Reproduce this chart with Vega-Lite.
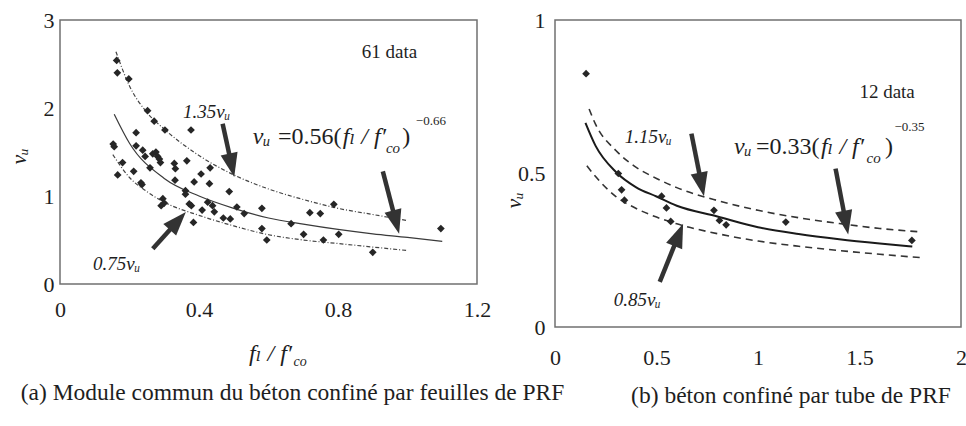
{
  "$schema": "https://vega.github.io/schema/vega-lite/v6.json",
  "background": "white",
  "padding": {"left": 6, "top": 8, "right": 0, "bottom": 0},
  "bounds": "flush",
  "spacing": 78,
  "config": {
    "font": "Liberation Serif, Times New Roman, DejaVu Serif, serif",
    "view": {"stroke": "#707070", "strokeWidth": 1.5},
    "axis": {
      "grid": false, "domain": false, "ticks": false,
      "labelFont": "Liberation Serif, Times New Roman, DejaVu Serif, serif", "labelFontSize": 22, "labelColor": "#1e1e1e",
      "labelFlush": false, "labelOverlap": false,
      "titleFont": "Liberation Serif, Times New Roman, DejaVu Serif, serif", "titleFontStyle": "italic", "titleFontWeight": "normal",
      "titleFontSize": 22, "titleColor": "#1e1e1e"
    },
    "text": {"font": "Liberation Serif, Times New Roman, DejaVu Serif, serif"},
    "title": {"font": "Liberation Serif, Times New Roman, DejaVu Serif, serif", "fontSize": 23.5, "fontWeight": "normal", "color": "#1e1e1e"}
  },
  "datasets": {
    "ptsA": [
      {"x":0.163,"y":2.54},{"x":0.165,"y":2.40},{"x":0.198,"y":2.33},{"x":0.252,"y":1.97},{"x":0.271,"y":1.85},
      {"x":0.302,"y":1.75},{"x":0.377,"y":1.75},{"x":0.219,"y":1.72},{"x":0.153,"y":1.59},{"x":0.156,"y":1.56},
      {"x":0.219,"y":1.57},{"x":0.238,"y":1.52},{"x":0.245,"y":1.45},{"x":0.267,"y":1.48},{"x":0.276,"y":1.50},
      {"x":0.281,"y":1.45},{"x":0.289,"y":1.38},{"x":0.286,"y":1.42},{"x":0.180,"y":1.38},{"x":0.259,"y":1.32},
      {"x":0.212,"y":1.28},{"x":0.166,"y":1.24},{"x":0.233,"y":1.15},{"x":0.236,"y":1.13},{"x":0.329,"y":1.37},
      {"x":0.332,"y":1.31},{"x":0.365,"y":1.40},{"x":0.331,"y":1.18},{"x":0.406,"y":1.25},{"x":0.432,"y":1.32},
      {"x":0.386,"y":1.16},{"x":0.430,"y":1.14},{"x":0.361,"y":1.06},{"x":0.361,"y":1.02},{"x":0.296,"y":0.97},
      {"x":0.291,"y":0.89},{"x":0.300,"y":0.92},{"x":0.372,"y":0.91},{"x":0.378,"y":0.89},{"x":0.425,"y":0.93},
      {"x":0.439,"y":0.89},{"x":0.487,"y":1.05},{"x":0.409,"y":0.84},{"x":0.444,"y":0.82},{"x":0.470,"y":0.75},
      {"x":0.490,"y":0.74},{"x":0.509,"y":0.875},{"x":0.530,"y":0.80},{"x":0.384,"y":0.70},{"x":0.581,"y":0.86},
      {"x":0.581,"y":0.63},{"x":0.595,"y":0.50},{"x":0.665,"y":0.685},{"x":0.701,"y":0.565},{"x":0.719,"y":0.81},
      {"x":0.749,"y":0.80},{"x":0.788,"y":0.905},{"x":0.758,"y":0.50},{"x":0.802,"y":0.565},{"x":0.900,"y":0.36},
      {"x":1.096,"y":0.63}
    ],
    "solidA": [
      {"x":0.156,"y":1.93},{"x":0.2,"y":1.60},{"x":0.3,"y":1.20},{"x":0.4,"y":1.00},{"x":0.5,"y":0.86},
      {"x":0.6,"y":0.75},{"x":0.7,"y":0.68},{"x":0.8,"y":0.62},{"x":0.9,"y":0.57},{"x":1.0,"y":0.53},{"x":1.1,"y":0.485}
    ],
    "upperA": [
      {"x":0.161,"y":2.64},{"x":0.2,"y":2.25},{"x":0.25,"y":1.95},{"x":0.3,"y":1.76},{"x":0.4,"y":1.46},
      {"x":0.5,"y":1.24},{"x":0.6,"y":1.08},{"x":0.7,"y":0.96},{"x":0.8,"y":0.86},{"x":0.9,"y":0.79},{"x":1.0,"y":0.72}
    ],
    "lowerA": [
      {"x":0.152,"y":1.47},{"x":0.2,"y":1.21},{"x":0.25,"y":1.05},{"x":0.3,"y":0.93},{"x":0.4,"y":0.78},
      {"x":0.5,"y":0.66},{"x":0.6,"y":0.56},{"x":0.7,"y":0.50},{"x":0.8,"y":0.46},{"x":0.9,"y":0.42},{"x":1.0,"y":0.38}
    ],
    "ptsB": [
      {"x":0.153,"y":0.825},{"x":0.312,"y":0.50},{"x":0.328,"y":0.447},{"x":0.342,"y":0.413},
      {"x":0.525,"y":0.426},{"x":0.549,"y":0.388},{"x":0.570,"y":0.344},{"x":0.783,"y":0.380},
      {"x":0.810,"y":0.347},{"x":0.843,"y":0.333},{"x":1.137,"y":0.342},{"x":1.758,"y":0.282}
    ],
    "solidB": [
      {"x":0.15,"y":0.665},{"x":0.2,"y":0.59},{"x":0.3,"y":0.505},{"x":0.4,"y":0.455},{"x":0.5,"y":0.425},
      {"x":0.6,"y":0.395},{"x":0.8,"y":0.36},{"x":1.0,"y":0.325},{"x":1.2,"y":0.303},{"x":1.4,"y":0.286},
      {"x":1.6,"y":0.272},{"x":1.76,"y":0.262}
    ],
    "upperB": [
      {"x":0.168,"y":0.71},{"x":0.2,"y":0.66},{"x":0.3,"y":0.575},{"x":0.4,"y":0.52},{"x":0.5,"y":0.484},
      {"x":0.6,"y":0.454},{"x":0.8,"y":0.412},{"x":1.0,"y":0.38},{"x":1.2,"y":0.356},{"x":1.4,"y":0.337},
      {"x":1.6,"y":0.321},{"x":1.8,"y":0.31}
    ],
    "lowerB": [
      {"x":0.157,"y":0.525},{"x":0.2,"y":0.49},{"x":0.3,"y":0.425},{"x":0.4,"y":0.386},{"x":0.5,"y":0.358},
      {"x":0.6,"y":0.336},{"x":0.8,"y":0.304},{"x":1.0,"y":0.28},{"x":1.2,"y":0.263},{"x":1.4,"y":0.249},
      {"x":1.6,"y":0.237},{"x":1.8,"y":0.226}
    ]
  },
  "hconcat": [
    {
      "width": 417,
      "height": 264,
      "title": {"text": "(a) Module commun du béton confiné par feuilles de PRF", "orient": "bottom", "anchor": "middle", "dx": 24, "offset": 12},
      "layer": [
        {
          "data": {"name": "solidA"},
          "mark": {"type": "line", "interpolate": "monotone", "color": "#3a3a3a", "strokeWidth": 1.2},
          "encoding": {
            "x": {"field": "x", "type": "quantitative", "scale": {"domain": [0, 1.2]},
                  "axis": {"values": [0, 0.4, 0.8, 1.2], "format": "~g", "title": null, "labelPadding": 15}},
            "y": {"field": "y", "type": "quantitative", "scale": {"domain": [0, 3]},
                  "axis": {"values": [0, 1, 2, 3], "format": "~g", "title": "vᵤ", "labelPadding": 6, "titleX": -42, "titleY": 136, "titleAngle": 270, "titleAlign": "center", "titleBaseline": "middle"}}
          }
        },
        {
          "data": {"name": "upperA"},
          "mark": {"type": "line", "interpolate": "monotone", "color": "#444444", "strokeWidth": 1.2, "strokeDash": [4, 2, 1, 2]},
          "encoding": {"x": {"field": "x", "type": "quantitative"}, "y": {"field": "y", "type": "quantitative"}}
        },
        {
          "data": {"name": "lowerA"},
          "mark": {"type": "line", "interpolate": "monotone", "color": "#444444", "strokeWidth": 1.2, "strokeDash": [4, 2, 1, 2]},
          "encoding": {"x": {"field": "x", "type": "quantitative"}, "y": {"field": "y", "type": "quantitative"}}
        },
        {
          "data": {"name": "ptsA"},
          "mark": {"type": "point", "shape": "diamond", "filled": true, "size": 60, "color": "#262626", "opacity": 1},
          "encoding": {"x": {"field": "x", "type": "quantitative"}, "y": {"field": "y", "type": "quantitative"}}
        },
        {
          "data": {"values": [
            {"x": 0.468, "y": 1.82, "x2": 0.494, "y2": 1.349},
            {"x": 0.929, "y": 1.28, "x2": 0.967, "y2": 0.703},
            {"x": 0.267, "y": 0.40, "x2": 0.339, "y2": 0.717}
          ]},
          "mark": {"type": "rule", "color": "#333333", "strokeWidth": 4.5},
          "encoding": {"x": {"field": "x", "type": "quantitative"}, "y": {"field": "y", "type": "quantitative"},
                       "x2": {"field": "x2"}, "y2": {"field": "y2"}}
        },
        {
          "data": {"values": [{"x": 0.494, "y": 1.349}]},
          "mark": {"type": "point", "shape": "M0,-1L-0.72,1L0.72,1Z", "filled": true, "size": 576, "color": "#333333", "opacity": 1, "angle": 167.7},
          "encoding": {"x": {"field": "x", "type": "quantitative"}, "y": {"field": "y", "type": "quantitative"}}
        },
        {
          "data": {"values": [{"x": 0.967, "y": 0.703}]},
          "mark": {"type": "point", "shape": "M0,-1L-0.72,1L0.72,1Z", "filled": true, "size": 576, "color": "#333333", "opacity": 1, "angle": 165.1},
          "encoding": {"x": {"field": "x", "type": "quantitative"}, "y": {"field": "y", "type": "quantitative"}}
        },
        {
          "data": {"values": [{"x": 0.339, "y": 0.717}]},
          "mark": {"type": "point", "shape": "M0,-1L-0.72,1L0.72,1Z", "filled": true, "size": 576, "color": "#333333", "opacity": 1, "angle": 42.2},
          "encoding": {"x": {"field": "x", "type": "quantitative"}, "y": {"field": "y", "type": "quantitative"}}
        },
        {
          "data": {"values": [{"x": 0.948, "y": 2.64, "t": "61 data"}]},
          "mark": {"type": "text", "fontSize": 19, "color": "#1e1e1e", "align": "center", "baseline": "middle"},
          "encoding": {"x": {"field": "x", "type": "quantitative"}, "y": {"field": "y", "type": "quantitative"}, "text": {"field": "t"}}
        },
        {
          "data": {"values": [{"x": 0.354, "y": 1.955, "t": "1.35vᵤ"}, {"x": 0.095, "y": 0.23, "t": "0.75vᵤ"}]},
          "mark": {"type": "text", "fontSize": 19, "fontStyle": "italic", "color": "#1e1e1e", "align": "left", "baseline": "middle"},
          "encoding": {"x": {"field": "x", "type": "quantitative"}, "y": {"field": "y", "type": "quantitative"}, "text": {"field": "t"}}
        },
        {
          "data": {"values": [{"x": 0.627, "y": 1.67, "t": "=0.56("}, {"x": 0.985, "y": 1.67, "t": ")"}]},
          "mark": {"type": "text", "fontSize": 24, "color": "#1e1e1e", "align": "left", "baseline": "middle"},
          "encoding": {"x": {"field": "x", "type": "quantitative"}, "y": {"field": "y", "type": "quantitative"}, "text": {"field": "t"}}
        },
        {
          "data": {"values": [{"x": 0.555, "y": 1.67, "t": "vᵤ"}, {"x": 0.814, "y": 1.67, "t": "fₗ / f′"}]},
          "mark": {"type": "text", "fontSize": 24, "fontStyle": "italic", "color": "#1e1e1e", "align": "left", "baseline": "middle"},
          "encoding": {"x": {"field": "x", "type": "quantitative"}, "y": {"field": "y", "type": "quantitative"}, "text": {"field": "t"}}
        },
        {
          "data": {"values": [{"x": 0.938, "y": 1.55, "t": "co"}]},
          "mark": {"type": "text", "fontSize": 15, "fontStyle": "italic", "color": "#1e1e1e", "align": "left", "baseline": "middle"},
          "encoding": {"x": {"field": "x", "type": "quantitative"}, "y": {"field": "y", "type": "quantitative"}, "text": {"field": "t"}}
        },
        {
          "data": {"values": [{"x": 1.024, "y": 1.85, "t": "−0.66"}]},
          "mark": {"type": "text", "fontSize": 13, "color": "#1e1e1e", "align": "left", "baseline": "middle"},
          "encoding": {"x": {"field": "x", "type": "quantitative"}, "y": {"field": "y", "type": "quantitative"}, "text": {"field": "t"}}
        },
        {
          "data": {"values": [{"x": 0.544, "y": -0.795, "t": "fₗ / f′"}]},
          "mark": {"type": "text", "fontSize": 24, "fontStyle": "italic", "color": "#1e1e1e", "align": "left", "baseline": "middle"},
          "encoding": {"x": {"field": "x", "type": "quantitative"}, "y": {"field": "y", "type": "quantitative"}, "text": {"field": "t"}}
        },
        {
          "data": {"values": [{"x": 0.672, "y": -0.89, "t": "co"}]},
          "mark": {"type": "text", "fontSize": 14, "fontStyle": "italic", "color": "#1e1e1e", "align": "left", "baseline": "middle"},
          "encoding": {"x": {"field": "x", "type": "quantitative"}, "y": {"field": "y", "type": "quantitative"}, "text": {"field": "t"}}
        }
      ]
    },
    {
      "width": 406,
      "height": 307,
      "title": {"text": "(b) béton confiné par tube de PRF", "orient": "bottom", "anchor": "middle", "dx": 33, "offset": 16},
      "layer": [
        {
          "data": {"name": "solidB"},
          "mark": {"type": "line", "interpolate": "monotone", "color": "#1a1a1a", "strokeWidth": 2},
          "encoding": {
            "x": {"field": "x", "type": "quantitative", "scale": {"domain": [0, 2]},
                  "axis": {"values": [0, 0.5, 1, 1.5, 2], "format": "~g", "title": null, "labelPadding": 20}},
            "y": {"field": "y", "type": "quantitative", "scale": {"domain": [0, 1]},
                  "axis": {"values": [0, 0.5, 1], "format": "~g", "title": "vᵤ", "labelPadding": 10, "titleX": -42, "titleY": 180, "titleAngle": 270, "titleAlign": "center", "titleBaseline": "middle"}}
          }
        },
        {
          "data": {"name": "upperB"},
          "mark": {"type": "line", "interpolate": "monotone", "color": "#333333", "strokeWidth": 1.6, "strokeDash": [7, 5]},
          "encoding": {"x": {"field": "x", "type": "quantitative"}, "y": {"field": "y", "type": "quantitative"}}
        },
        {
          "data": {"name": "lowerB"},
          "mark": {"type": "line", "interpolate": "monotone", "color": "#333333", "strokeWidth": 1.6, "strokeDash": [7, 5]},
          "encoding": {"x": {"field": "x", "type": "quantitative"}, "y": {"field": "y", "type": "quantitative"}}
        },
        {
          "data": {"name": "ptsB"},
          "mark": {"type": "point", "shape": "diamond", "filled": true, "size": 60, "color": "#262626", "opacity": 1},
          "encoding": {"x": {"field": "x", "type": "quantitative"}, "y": {"field": "y", "type": "quantitative"}}
        },
        {
          "data": {"values": [
            {"x": 0.672, "y": 0.630, "x2": 0.722, "y2": 0.464},
            {"x": 1.382, "y": 0.516, "x2": 1.433, "y2": 0.340},
            {"x": 0.516, "y": 0.147, "x2": 0.609, "y2": 0.300}
          ]},
          "mark": {"type": "rule", "color": "#333333", "strokeWidth": 4.5},
          "encoding": {"x": {"field": "x", "type": "quantitative"}, "y": {"field": "y", "type": "quantitative"},
                       "x2": {"field": "x2"}, "y2": {"field": "y2"}}
        },
        {
          "data": {"values": [{"x": 0.722, "y": 0.464}]},
          "mark": {"type": "point", "shape": "M0,-1L-0.72,1L0.72,1Z", "filled": true, "size": 576, "color": "#333333", "opacity": 1, "angle": 168.5},
          "encoding": {"x": {"field": "x", "type": "quantitative"}, "y": {"field": "y", "type": "quantitative"}}
        },
        {
          "data": {"values": [{"x": 1.433, "y": 0.340}]},
          "mark": {"type": "point", "shape": "M0,-1L-0.72,1L0.72,1Z", "filled": true, "size": 576, "color": "#333333", "opacity": 1, "angle": 169},
          "encoding": {"x": {"field": "x", "type": "quantitative"}, "y": {"field": "y", "type": "quantitative"}}
        },
        {
          "data": {"values": [{"x": 0.609, "y": 0.300}]},
          "mark": {"type": "point", "shape": "M0,-1L-0.72,1L0.72,1Z", "filled": true, "size": 576, "color": "#333333", "opacity": 1, "angle": 21.9},
          "encoding": {"x": {"field": "x", "type": "quantitative"}, "y": {"field": "y", "type": "quantitative"}}
        },
        {
          "data": {"values": [{"x": 1.636, "y": 0.765, "t": "12 data"}]},
          "mark": {"type": "text", "fontSize": 19, "color": "#1e1e1e", "align": "center", "baseline": "middle"},
          "encoding": {"x": {"field": "x", "type": "quantitative"}, "y": {"field": "y", "type": "quantitative"}, "text": {"field": "t"}}
        },
        {
          "data": {"values": [{"x": 0.343, "y": 0.619, "t": "1.15vᵤ"}, {"x": 0.289, "y": 0.088, "t": "0.85vᵤ"}]},
          "mark": {"type": "text", "fontSize": 19, "fontStyle": "italic", "color": "#1e1e1e", "align": "left", "baseline": "middle"},
          "encoding": {"x": {"field": "x", "type": "quantitative"}, "y": {"field": "y", "type": "quantitative"}, "text": {"field": "t"}}
        },
        {
          "data": {"values": [{"x": 0.99, "y": 0.586, "t": "=0.33("}, {"x": 1.625, "y": 0.586, "t": ")"}]},
          "mark": {"type": "text", "fontSize": 24, "color": "#1e1e1e", "align": "left", "baseline": "middle"},
          "encoding": {"x": {"field": "x", "type": "quantitative"}, "y": {"field": "y", "type": "quantitative"}, "text": {"field": "t"}}
        },
        {
          "data": {"values": [{"x": 0.882, "y": 0.586, "t": "vᵤ"}, {"x": 1.31, "y": 0.586, "t": "fₗ / f′"}]},
          "mark": {"type": "text", "fontSize": 24, "fontStyle": "italic", "color": "#1e1e1e", "align": "left", "baseline": "middle"},
          "encoding": {"x": {"field": "x", "type": "quantitative"}, "y": {"field": "y", "type": "quantitative"}, "text": {"field": "t"}}
        },
        {
          "data": {"values": [{"x": 1.535, "y": 0.552, "t": "co"}]},
          "mark": {"type": "text", "fontSize": 15, "fontStyle": "italic", "color": "#1e1e1e", "align": "left", "baseline": "middle"},
          "encoding": {"x": {"field": "x", "type": "quantitative"}, "y": {"field": "y", "type": "quantitative"}, "text": {"field": "t"}}
        },
        {
          "data": {"values": [{"x": 1.672, "y": 0.651, "t": "−0.35"}]},
          "mark": {"type": "text", "fontSize": 13, "color": "#1e1e1e", "align": "left", "baseline": "middle"},
          "encoding": {"x": {"field": "x", "type": "quantitative"}, "y": {"field": "y", "type": "quantitative"}, "text": {"field": "t"}}
        }
      ]
    }
  ]
}
